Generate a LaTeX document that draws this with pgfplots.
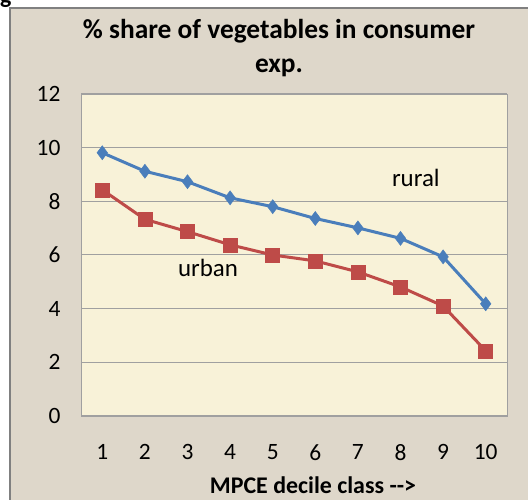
\documentclass[border=0pt]{standalone}
\usepackage{pgfplots}
\pgfplotsset{compat=1.18}
\usepackage{fontspec}
\setmainfont{Carlito}
\definecolor{outerbg}{RGB}{222,215,202}
\definecolor{plotbg}{RGB}{248,242,216}
\definecolor{rblue}{RGB}{74,126,187}
\definecolor{ured}{RGB}{190,75,72}
\definecolor{gridc}{RGB}{160,160,160}
\begin{document}
\begin{tikzpicture}[x=1bp,y=1bp]
\useasboundingbox (0,0) rectangle (528,500);
\fill[white] (0,0) rectangle (528,500);
\fill[outerbg] (10,0) rectangle (540,492);
\draw[gray,line width=1.5bp] (10,-2) -- (10,492) -- (540,492);
\node[anchor=base west,inner sep=0pt,font=\bfseries\fontsize{24}{26}\selectfont] at (0,496) {g};
\begin{axis}[
  at={(81bp,84bp)}, anchor=south west,
  scale only axis, width=426bp, height=322bp,
  xmin=0.5, xmax=10.5, ymin=0, ymax=12,
  xtick={1,...,10}, ytick={0,2,...,12},
  axis background/.style={fill=plotbg},
  axis line style={draw=gridc},
  ymajorgrids, grid style={gridc, line width=1bp},
  major tick length=0pt,
  tick label style={font=\fontsize{23.5}{25}\selectfont},
  /pgf/number format/assume math mode=true,
  yticklabel style={xshift=-17bp},
  xticklabel style={yshift=-25bp},
  clip=false,
]
\addplot[rblue, line width=3bp, mark=diamond*, mark size=7bp, mark options={fill=rblue,draw=rblue,line width=0.5bp}]
 coordinates {(1,9.81)(2,9.12)(3,8.73)(4,8.13)(5,7.8)(6,7.36)(7,7.01)(8,6.62)(9,5.93)(10,4.18)};
\addplot[ured, line width=3bp, mark=square*, mark size=7bp, mark options={fill=ured,draw=ured,line width=0.5bp}]
 coordinates {(1,8.43)(2,7.33)(3,6.87)(4,6.38)(5,6.0)(6,5.78)(7,5.37)(8,4.81)(9,4.1)(10,2.43)};
\node[font=\fontsize{25}{27}\selectfont] at (axis cs:8.36,8.88) {rural};
\node[font=\fontsize{25}{27}\selectfont] at (axis cs:3.48,5.52) {urban};
\end{axis}
\node[align=center,inner sep=0pt,font=\bfseries\fontsize{27.5}{34}\selectfont] at (279,452) {\% share of vegetables in consumer\\exp.};
\node[anchor=base,inner sep=0pt,font=\bfseries\fontsize{24}{26}\selectfont] at (313,6) {MPCE decile class {-}{-}>};
\end{tikzpicture}
\end{document}
